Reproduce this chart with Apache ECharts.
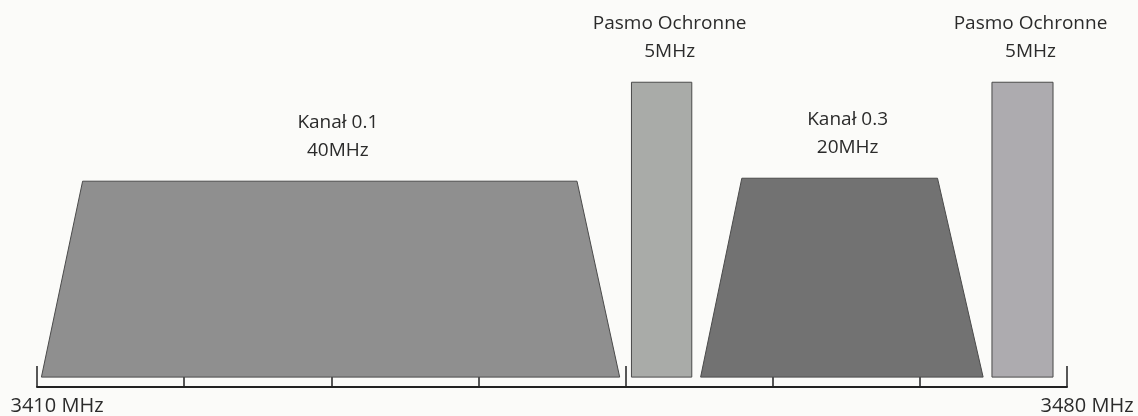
<!DOCTYPE html>
<html>
<head>
<meta charset="utf-8">
<style>
  html, body { margin: 0; padding: 0; background: #fbfbf9; }
  #chart { width: 1138px; height: 416px; }
</style>
<script src="https://cdn.jsdelivr.net/npm/echarts@6/dist/echarts.min.js"></script>
</head>
<body>
<div id="chart"></div>
<script>
// pasma (MHz) - kanały i pasma ochronne
const bandNames = ['Kanał 0.1', 'Pasmo Ochronne', 'Kanał 0.3', 'Pasmo Ochronne']
const bandWidths = ['40MHz', '5MHz', '20MHz', '5MHz']
const baseStart = [3410.3, 3450.4, 3455.1, 3474.9]
const baseEnd = [3449.6, 3454.5, 3474.3, 3479.05]
const topStart = [3413.1, 3450.4, 3457.9, 3474.9]
const topEnd = [3446.7, 3454.5, 3471.2, 3479.05]
const baseLevel = [1.0, 1.0, 1.0, 1.0]
const topLevel = [20.8, 30.8, 21.1, 30.8]

const axisMin = 3410
const axisMax = 3480
const axisStep = 10

const fills = ['#8f8f8f', '#a9aba8', '#727272', '#adabaf']

const chart = echarts.init(document.getElementById('chart'))

const data = bandNames.map((name, i) => [
  baseStart[i], baseEnd[i], topStart[i], topEnd[i], baseLevel[i], topLevel[i], i
])

const renderItem = (params, api) => {
  const i = api.value(6)
  const bl = api.coord([api.value(0), api.value(4)])
  const br = api.coord([api.value(1), api.value(4)])
  const tl = api.coord([api.value(2), api.value(5)])
  const tr = api.coord([api.value(3), api.value(5)])
  const cx = (tl[0] + tr[0]) / 2 + 8
  return {
    type: 'group',
    children: [
      {
        type: 'polygon',
        shape: { points: [bl, br, tr, tl] },
        style: { fill: fills[i], stroke: '#4a4a4a', lineWidth: 1 }
      },
      {
        type: 'text',
        x: cx,
        y: tl[1] - 45,
        style: {
          text: bandNames[i] + '\n' + bandWidths[i],
          fill: '#2b2b2b',
          font: '19px "Open Sans"',
          lineHeight: 28,
          align: 'center',
          verticalAlign: 'middle'
        }
      }
    ]
  }
}

const option = {
  animation: false,
  grid: { left: 37, right: 71, top: 11, bottom: 25 },
  xAxis: {
    type: 'value',
    min: axisMin,
    max: axisMax,
    interval: axisStep,
    splitLine: { show: false },
    axisLine: { show: true, lineStyle: { color: '#222', width: 2 } },
    axisTick: { show: true, inside: true, length: 21, lineStyle: { color: '#222', width: 1.5 } },
    axisLabel: {
      showMinLabel: true,
      showMaxLabel: true,
      margin: 9,
      color: '#2b2b2b',
      fontFamily: 'Open Sans',
      fontSize: 20,
      padding: [0, 0, 0, 40],
      formatter: (v) => (v === axisMin || v === axisMax ? v + ' MHz' : '')
    }
  },
  yAxis: {
    type: 'value',
    min: 0,
    max: 38,
    show: false
  },
  series: [
    {
      type: 'custom',
      renderItem: renderItem,
      data: data,
      clip: false
    }
  ]
}

chart.setOption(option)
</script>
</body>
</html>
